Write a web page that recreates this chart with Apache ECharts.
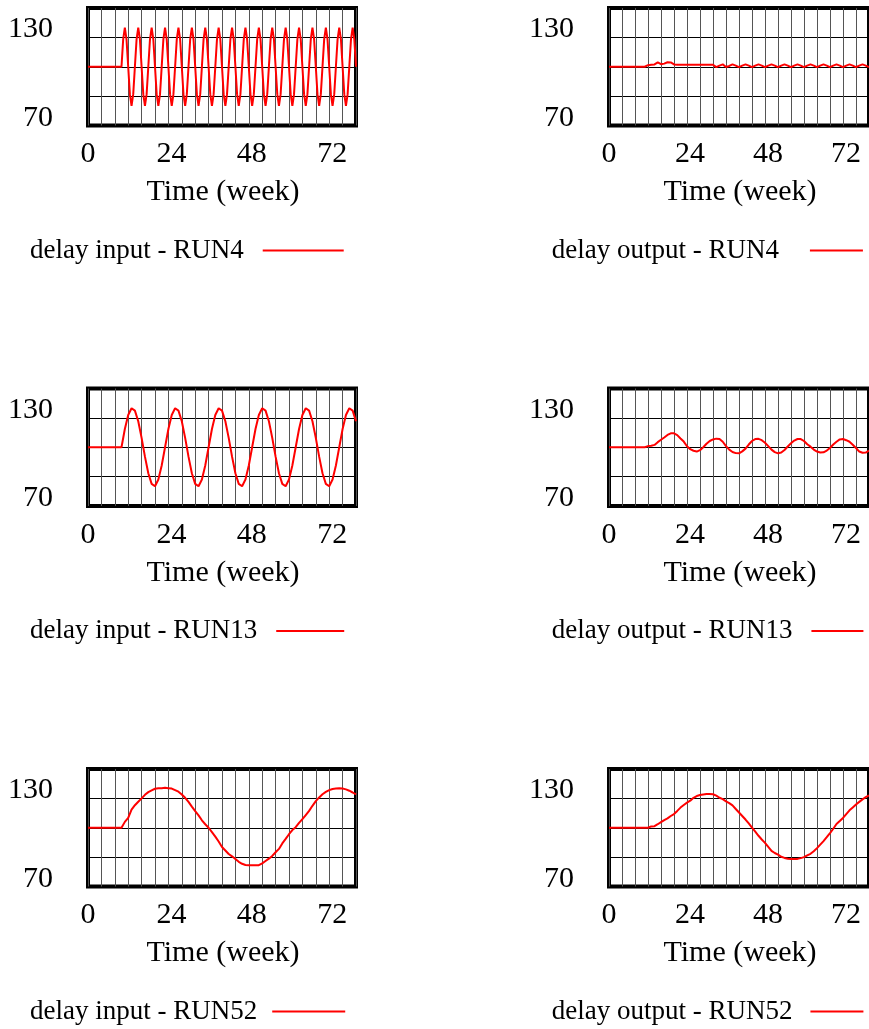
<!DOCTYPE html>
<html>
<head>
<meta charset="utf-8">
<script src="https://cdn.jsdelivr.net/npm/echarts@6/dist/echarts.min.js"></script>
<style>
html,body{margin:0;padding:0;background:#fff;overflow:hidden;}
#c{width:869px;height:1029px;}
</style>
</head>
<body>
<div id="c"></div>
<script>
// ---- data ----
const xTickLabels = [0, 24, 48, 72];
const yTickLabels = [70, 130];
const seriesNames = [
  'delay input - RUN4', 'delay output - RUN4',
  'delay input - RUN13', 'delay output - RUN13',
  'delay input - RUN52', 'delay output - RUN52'
];
// time in weeks (RUN4 input saved every 0.5 week, others every week)
const weeks = [];
for (let i = 0; i <= 80; i++) weeks.push(i);
const halfWeeks = [];
for (let i = 0; i <= 160; i++) halfWeeks.push(i / 2);

const inputRun4 = [
  100,100,100,100,100,100,100,100,100,100,100,100,100,100,100,100,100,100,100,100,100,
  114,120,114,100,86,80,86,100,
  114,120,114,100,86,80,86,100,
  114,120,114,100,86,80,86,100,
  114,120,114,100,86,80,86,100,
  114,120,114,100,86,80,86,100,
  114,120,114,100,86,80,86,100,
  114,120,114,100,86,80,86,100,
  114,120,114,100,86,80,86,100,
  114,120,114,100,86,80,86,100,
  114,120,114,100,86,80,86,100,
  114,120,114,100,86,80,86,100,
  114,120,114,100,86,80,86,100,
  114,120,114,100,86,80,86,100,
  114,120,114,100,86,80,86,100,
  114,120,114,100,86,80,86,100,
  114,120,114,100,86,80,86,100,
  114,120,114,100,86,80,86,100,
  114,120,114,100
];
const outputRun4 = [
  100,100,100,100,100,100,100,100,100,100,100,100,
  100.8,101,101.2,102.2,101.3,101.6,102.3,102.2,101.2,101,
  101,101,101,101,101,101,101,101,101,101,101,
  99.8,100.6,101.2,99.9,100.4,101.2,100.6,99.8,
  100.6,101.2,100.6,99.8, 100.6,101.2,100.6,99.8,
  100.6,101.2,100.6,99.8, 100.6,101.2,100.6,99.8,
  100.6,101.2,100.6,99.8, 100.6,101.2,100.6,99.8,
  100.6,101.2,100.6,99.8, 100.6,101.2,100.6,99.8,
  100.6,101.2,100.6,99.8, 100.6,101.2,100.6,99.8
];
const inputRun13 = [
  100,100,100,100,100,100,100,100,100,100,100,
  109.3,116.5,119.9,118.7,113.3,104.8,95.2,86.7,81.3,80.1,83.5,90.7,100,
  109.3,116.5,119.9,118.7,113.3,104.8,95.2,86.7,81.3,80.1,83.5,90.7,100,
  109.3,116.5,119.9,118.7,113.3,104.8,95.2,86.7,81.3,80.1,83.5,90.7,100,
  109.3,116.5,119.9,118.7,113.3,104.8,95.2,86.7,81.3,80.1,83.5,90.7,100,
  109.3,116.5,119.9,118.7,113.3,104.8,95.2,86.7,81.3,80.1,83.5,90.7,100,
  109.3,116.5,119.9,118.7,113.3
];
const outputRun13 = [
  100,100,100,100,100,100,100,100,100,100,100,100,
  100.6,100.8,101.2,102.6,103.8,105,106.3,107.1,107.1,106.2,
  104.5,102.9,100.5,99,98.2,97.8,98.5,100,101.8,103.2,
  104,104.4,104.2,102.8,100.6,98.8,97.6,97,96.9,97.9,
  99.3,101.4,103.2,104.2,104.3,103.6,102.3,100.6,98.8,97.5,
  96.9,97.3,98.6,100.4,102,103.4,104.2,104.2,103.2,101.5,
  100.3,98.8,97.8,97.3,97.4,98.3,99.6,101.4,102.8,104,
  104.2,103.6,102.8,101.3,99.6,97.8,97.2,97.3,98.3
];
const inputRun52 = [
  100,100,100,100,100,100,100,100,100,100,100,
  103,105,109.3,111.5,113.3,115,116.8,118.2,119.1,119.9,
  120.2,120.2,120.4,120.2,120,119.2,118.4,117,115.3,113.2,
  110.8,108.5,106.3,103.8,101.8,100,97.8,95.5,93,90.2,
  88.4,86.6,85.4,84,82.6,81.6,81,80.8,80.8,80.8,
  80.9,81.8,83,84.2,85.6,87.5,89.2,92,94.3,96.7,
  98.8,100.3,102.5,104.4,106.5,108.6,111.2,113.6,115.5,117.1,
  118.3,119.2,119.8,120,120.2,120,119.6,118.9,118,117
];
const outputRun52 = [
  100,100,100,100,100,100,100,100,100,100,100,100,100,
  100.7,100.8,101.8,102.9,103.9,104.8,106,107,108.6,110.3,
  111.6,112.8,113.8,115.3,116.2,116.7,117,117.2,117.2,117.1,
  116.4,115.3,114.6,113.5,112.6,111.4,109.6,107.8,106,104.2,
  102.2,100.1,98,95.9,94,92.3,90.2,88.2,87.1,86.3,
  85.2,84.6,84.2,84,84,84.1,84.5,85,85.9,86.7,
  88,89.6,91.4,93.2,95.2,97.3,99.5,101.9,103.4,105,
  107,108.9,110.4,111.9,113.2,114.5,115.6,116.6
];

// ---- layout ----
const FONT = "'Liberation Serif','Times New Roman',serif";
const colLeft = [88, 609];
const rowTop = [8, 388.5, 769];
const plotW = 268, plotH = 117.5;
const panels = [
  {name: seriesNames[0], t: halfWeeks, v: inputRun4, col: 0, row: 0, legPad: 14, legW: 81},
  {name: seriesNames[1], t: weeks, v: outputRun4, col: 1, row: 0, legPad: 26, legW: 53},
  {name: seriesNames[2], t: weeks, v: inputRun13, col: 0, row: 1, legPad: 14, legW: 68},
  {name: seriesNames[3], t: weeks, v: outputRun13, col: 1, row: 1, legPad: 14, legW: 52},
  {name: seriesNames[4], t: weeks, v: inputRun52, col: 0, row: 2, legPad: 10, legW: 73},
  {name: seriesNames[5], t: weeks, v: outputRun52, col: 1, row: 2, legPad: 13, legW: 53}
];
const legendLeft = [30, 551.7];
const legendTopOffset = 229; // from plot top

const grid = [], xAxis = [], yAxis = [], series = [], legend = [];
panels.forEach((p, i) => {
  grid.push({
    left: colLeft[p.col], top: rowTop[p.row], width: plotW, height: plotH,
    show: true, borderColor: '#000', borderWidth: 4, backgroundColor: 'transparent',
    containLabel: false
  });
  xAxis.push({
    gridIndex: i, type: 'value', min: 0, max: 80, interval: 4,
    axisLine: {show: false}, axisTick: {show: false},
    splitLine: {show: true, lineStyle: {color: '#555', width: 1}},
    axisLabel: {
      margin: 14, color: '#000', fontFamily: FONT, fontSize: 30,
      customValues: xTickLabels,
      formatter: v => xTickLabels.includes(v) ? (v === 0 ? '{z|0}' : '{s|' + v + '}') : '',
      rich: {
        z: {fontFamily: FONT, fontSize: 30, color: '#000'},
        s: {fontFamily: FONT, fontSize: 30, color: '#000', padding: [0, 0, 0, 6]}
      }
    },
    name: 'Time (week)', nameLocation: 'middle', nameGap: 52,
    nameTextStyle: {fontFamily: FONT, fontSize: 30, color: '#000', padding: [0, 0, 0, 2]}
  });
  yAxis.push({
    gridIndex: i, type: 'value', min: 70, max: 130,
    axisLine: {show: false}, axisTick: {show: false}, splitLine: {show: false},
    axisLabel: {
      margin: 35, color: '#000', fontFamily: FONT, fontSize: 30,
      customValues: yTickLabels,
      formatter: v => v === 130 ? '{t|130}' : (v === 70 ? '{b|70}' : ''),
      rich: {
        t: {fontFamily: FONT, fontSize: 30, color: '#000', padding: [43, 0, 0, 0]},
        b: {fontFamily: FONT, fontSize: 30, color: '#000', padding: [0, 0, 15, 0]}
      }
    }
  });
  yAxis.push({
    gridIndex: i, type: 'value', min: 0, max: 4, interval: 1, position: 'left',
    axisLine: {show: false}, axisTick: {show: false}, axisLabel: {show: false},
    splitLine: {show: true, lineStyle: {color: '#000', width: 1}}
  });
  series.push({
    type: 'line', name: p.name, xAxisIndex: i, yAxisIndex: 2 * i,
    data: p.t.map((t, k) => [t, p.v[k]]),
    showSymbol: false, symbol: 'none', clip: true,
    lineStyle: {color: '#ff0000', width: 2}, itemStyle: {color: '#ff0000'},
    z: 5
  });
  legend.push({
    data: [{name: p.name, icon: 'rect'}],
    left: legendLeft[p.col], top: rowTop[p.row] + legendTopOffset,
    orient: 'horizontal', align: 'right', padding: 0,
    itemWidth: p.legW, itemHeight: 2, selectedMode: false,
    textStyle: {fontFamily: FONT, fontSize: 27, color: '#000', padding: [0, p.legPad, 0, 0]}
  });
});

const chart = echarts.init(document.getElementById('c'), null, {renderer: 'canvas'});
chart.setOption({
  animation: false,
  backgroundColor: '#fff',
  color: ['#ff0000'],
  grid, xAxis, yAxis, series, legend
});
</script>
</body>
</html>
